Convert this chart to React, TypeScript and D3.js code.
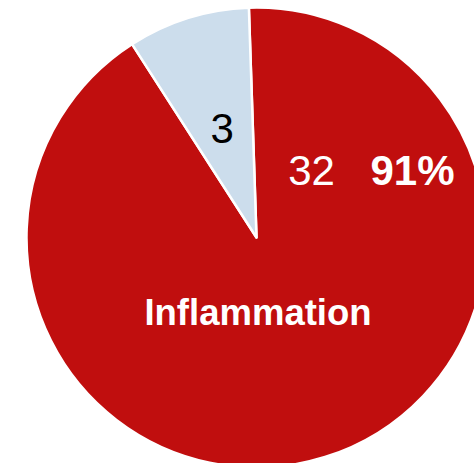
import React from "react";
import * as d3 from "d3";

// Slice data
const categories = ["Inflammation", "Other"];
const counts = [32, 3];
const colors = ["#C00E0E", "#CCDDEC"];

const W = 474;
const H = 463;
const CX = 256.5;
const CY = 237.5;
const R = 230;
const START_DEG = -1.9;

export default function App() {
  const total = d3.sum(counts);
  const pie = d3
    .pie<number>()
    .sort(null)
    .value((d) => d)
    .startAngle((START_DEG * Math.PI) / 180)
    .endAngle(((START_DEG + 360) * Math.PI) / 180);
  const arcs = pie(counts);
  const arc = d3.arc<d3.PieArcDatum<number>>().innerRadius(0).outerRadius(R);
  const pct = d3.format(".0%")(counts[0] / total);
  const font = "'Liberation Sans', Arial, sans-serif";
  const small = arcs[1];
  const [sx, sy] = arc.centroid(small);

  return (
    <svg
      width={W}
      height={H}
      style={{ position: "absolute", left: 0, top: 0, background: "#fff" }}
      fontFamily={font}
    >
      <g transform={`translate(${CX},${CY})`}>
        {arcs.map((a, i) => (
          <path
            key={categories[i]}
            d={arc(a) || ""}
            fill={colors[i]}
            stroke="#fff"
            strokeWidth={2.5}
            strokeLinejoin="round"
          />
        ))}
        <text
          x={sx}
          y={sy + 15}
          textAnchor="middle"
          fontSize={42}
          fill="#000"
        >
          {counts[1]}
        </text>
        <text x={55} y={-52.5} textAnchor="middle" fontSize={42} fill="#fff">
          {counts[0]}
        </text>
        <text
          x={156}
          y={-52.5}
          textAnchor="middle"
          fontSize={42}
          fontWeight="bold"
          fill="#fff"
        >
          {pct}
        </text>
        <text
          x={1.5}
          y={87.5}
          textAnchor="middle"
          fontSize={36.5}
          fontWeight="bold"
          fill="#fff"
        >
          {categories[0]}
        </text>
      </g>
    </svg>
  );
}
